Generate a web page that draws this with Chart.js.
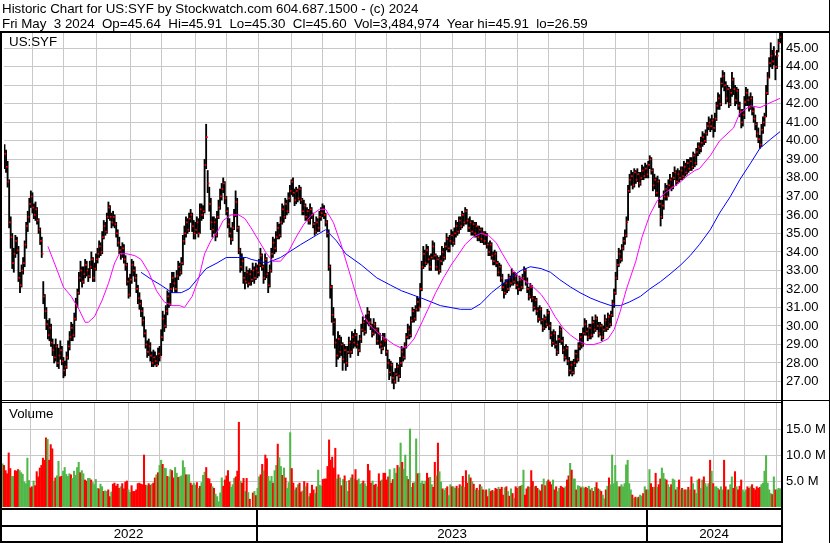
<!DOCTYPE html>
<html>
<head>
<meta charset="utf-8">
<script src="https://cdn.jsdelivr.net/npm/chart.js@4.4.1/dist/chart.umd.min.js"></script>
<style>
  html, body { margin: 0; padding: 0; background: #fff; }
  #wrap { position: relative; width: 830px; height: 543px; overflow: hidden; font-family: "Liberation Sans", Arial, sans-serif; color: #000; }
  canvas { position: absolute; left: 0; top: 0; }
  .t { position: absolute; white-space: pre; font-size: 13.33px; line-height: 15px; }
  .ln { position: absolute; background: #000; }
</style>
</head>
<body>
<div id="wrap">
  <canvas id="price" width="830" height="543"></canvas>
  <canvas id="vol" width="830" height="543"></canvas>
  <div class="t" style="left:2px;top:1px">Historic Chart for US:SYF by Stockwatch.com 604.687.1500 - (c) 2024</div>
  <div class="t" style="left:2px;top:16px">Fri May  3 2024  Op=45.64  Hi=45.91  Lo=45.30  Cl=45.60  Vol=3,484,974  Year hi=45.91  lo=26.59</div>
  <div class="t" style="left:9px;top:34px">US:SYF</div>
  <div class="t" style="left:9px;top:406px">Volume</div>
  <div class="ln" style="left:0;top:31px;width:830px;height:2px"></div>
  <div class="ln" style="left:0;top:31px;width:2px;height:512px"></div>
  <div class="ln" style="left:781px;top:31px;width:2px;height:512px"></div>
  <div class="ln" style="left:829px;top:0;width:1px;height:543px"></div>
  <div class="ln" style="left:0;top:400px;width:830px;height:1px"></div>
  <div class="ln" style="left:0;top:402px;width:783px;height:1px"></div>
  <div class="ln" style="left:0;top:508px;width:783px;height:2px"></div>
  <div class="ln" style="left:0;top:525px;width:783px;height:2px"></div>
  <div class="ln" style="left:0;top:541px;width:783px;height:2px"></div>
</div>
<script>
// daily bars, May 3 2022 .. May 3 2024 (one line per month)
const close = [
  39.3,38.6,37.8,35.6,34.8,33.4,33.9,34.6,34.1,32.6,32.2,33.0,33.4,34.4,35.4,35.9,36.6,37.0,
  36.4,36.0,36.3,35.7,35.2,34.6,33.9,31.6,30.8,30.1,29.5,29.9,29.1,28.7,28.3,28.9,28.0,28.4,28.7,28.1,
  27.6,27.8,28.3,28.9,29.4,29.9,29.5,30.4,31.1,31.8,32.6,33.0,32.4,32.8,33.3,33.0,32.7,33.2,33.6,32.6,33.1,
  33.6,33.9,34.3,34.0,34.8,35.4,35.1,35.9,36.4,35.9,35.6,35.9,35.5,35.0,34.5,34.1,33.9,34.2,33.6,33.3,32.4,31.7,
  32.5,33.3,33.0,32.6,32.0,31.5,31.2,30.8,30.3,29.6,29.0,28.6,28.9,28.4,28.0,28.3,28.1,27.9,28.5,28.3,
  29.4,30.4,30.0,30.8,31.6,31.2,32.0,32.6,32.3,32.0,32.7,33.2,32.9,33.4,34.6,35.0,35.6,35.2,35.8,36.0,35.4,35.0,
  35.2,35.6,35.0,36.3,36.0,36.2,38.7,40.2,37.7,36.6,35.6,35.2,35.6,34.9,35.9,36.4,37.0,37.4,37.7,36.9,
  36.2,35.5,35.0,34.7,35.3,36.0,36.7,35.3,34.1,33.2,33.5,32.6,32.4,32.9,32.3,32.8,32.5,33.0,32.6,33.1,32.9,
  33.3,33.8,33.2,32.6,33.6,32.8,32.2,33.0,33.9,34.5,34.2,34.8,35.3,34.9,35.6,36.3,35.9,36.6,36.2,36.9,37.3,
  37.8,37.2,36.8,37.3,36.9,37.4,36.8,36.2,36.5,35.9,36.2,35.7,36.3,36.0,35.5,35.1,35.6,35.3,35.9,36.1,
  36.3,36.0,35.6,35.0,33.2,32.1,30.6,30.2,29.1,28.4,29.3,28.6,29.0,28.2,28.7,28.0,28.6,29.1,28.6,29.4,29.1,
  29.5,29.0,28.7,29.3,29.8,30.2,29.7,30.3,30.7,30.2,30.0,29.6,30.1,29.8,29.2,29.6,29.0,28.8,29.3,29.2,
  28.6,28.0,27.5,27.9,27.2,27.0,27.4,27.8,27.3,28.0,28.6,28.3,28.9,29.4,29.8,29.5,30.3,30.8,30.4,30.9,31.3,31.0,
  32.0,33.2,33.9,33.4,34.1,33.6,33.2,33.7,34.3,33.8,33.2,33.6,33.0,33.5,34.0,33.7,34.3,34.7,34.2,34.6,34.9,
  34.5,35.0,35.4,35.1,35.7,35.4,36.0,35.6,36.2,35.7,35.3,35.6,35.1,35.5,35.0,35.4,34.8,35.2,34.7,35.0,34.6,
  34.9,34.4,34.0,34.4,33.8,33.5,33.9,33.4,32.9,33.2,32.6,32.1,31.8,32.3,32.0,32.6,32.3,32.9,32.4,32.7,32.2,
  32.0,32.5,32.1,32.6,33.0,32.4,32.0,31.6,32.1,31.5,31.0,31.4,30.8,30.4,30.9,30.3,29.9,30.4,30.1,30.7,
  30.0,29.5,29.1,29.6,29.0,28.6,29.3,29.8,29.2,28.7,28.3,28.8,28.1,27.6,27.9,27.5,28.0,28.5,28.2,28.9,29.4,29.0,
  29.6,30.1,29.7,29.4,29.9,29.5,30.2,29.8,30.4,30.0,29.6,30.0,29.4,29.8,30.3,29.9,30.5,30.1,30.6,31.2,31.8,
  32.6,33.3,33.9,33.6,34.2,34.6,34.9,35.6,37.3,37.9,38.1,37.6,38.3,37.9,38.2,37.7,38.0,38.4,38.1,38.5,38.2,
  38.7,39.0,38.4,37.6,37.9,37.2,37.8,36.6,35.9,36.5,37.0,37.4,37.0,37.6,37.9,37.5,38.0,38.3,37.8,38.2,38.0,
  38.4,38.1,38.6,38.3,38.8,38.5,38.9,38.6,39.2,38.8,39.4,39.7,39.6,39.9,40.2,40.0,40.4,40.8,41.0,40.8,41.1,
  40.7,41.2,41.9,42.3,42.0,43.1,43.5,43.0,42.3,42.8,42.0,42.6,43.3,42.8,42.2,42.7,41.9,41.6,41.0,41.4,
  42.1,42.6,42.2,41.8,42.3,41.6,41.2,40.9,40.4,40.1,39.8,40.6,41.0,41.3,42.6,43.4,44.2,44.6,44.3,44.8,44.0,
  44.6,45.3,45.6
];
const high = [
  39.8,39.5,38.9,37.9,35.9,35.0,34.2,34.9,34.8,34.3,32.9,33.3,33.7,34.6,35.6,36.2,36.9,37.3,
  37.2,36.6,36.7,36.4,35.8,35.3,34.8,32.4,31.7,31.0,30.3,30.4,30.1,29.3,29.0,29.3,29.0,28.8,29.2,28.9,
  28.3,28.1,28.6,29.2,29.7,30.2,30.1,30.7,31.5,32.0,32.9,33.5,33.2,33.2,33.6,33.5,33.1,33.5,34.0,33.7,33.4,
  33.9,34.2,34.6,34.5,35.1,35.7,35.6,36.1,36.7,36.5,36.1,36.2,36.0,35.6,35.2,34.8,34.3,34.5,34.4,33.8,33.4,32.6,
  32.8,33.6,33.5,33.2,32.8,32.2,31.8,31.4,31.0,30.5,29.8,29.2,29.3,29.1,28.6,28.7,28.6,28.4,28.8,28.9,
  29.8,30.8,30.6,31.1,31.9,31.8,32.3,32.9,32.9,32.6,33.0,33.5,33.4,33.7,34.9,35.4,35.9,35.8,36.1,36.3,36.1,35.7,
  35.6,35.9,35.8,36.6,36.6,36.5,39.0,40.9,38.4,37.5,36.9,35.9,35.9,35.8,36.2,36.8,37.4,37.7,38.0,37.8,
  37.0,36.4,35.8,35.3,35.6,36.3,37.3,36.9,35.4,34.2,33.9,33.7,32.9,33.2,33.0,33.1,33.0,33.4,33.2,33.4,33.3,
  33.6,34.2,33.9,33.3,33.9,33.7,32.9,33.3,34.2,34.8,34.7,35.1,35.6,35.5,35.9,36.6,36.5,36.9,36.8,37.2,37.6,
  37.9,38.0,37.4,37.5,37.4,37.6,37.5,36.9,36.8,36.6,36.4,36.3,36.6,36.4,36.1,35.6,35.9,35.8,36.2,36.4,
  36.6,36.5,36.1,35.7,35.2,33.3,32.2,31.0,30.4,29.3,29.7,29.5,29.4,29.1,29.0,28.9,28.9,29.4,29.2,29.7,29.6,
  29.8,29.6,29.2,29.5,30.1,30.5,30.3,30.6,31.0,30.8,30.4,30.1,30.4,30.2,29.9,29.9,29.6,29.2,29.6,29.6,
  29.3,28.7,28.2,28.1,28.0,27.5,27.7,28.0,27.9,28.3,28.9,28.8,29.1,29.6,30.1,30.0,30.5,31.0,30.9,31.1,31.6,31.5,
  32.3,33.5,34.3,34.1,34.4,34.3,33.8,33.9,34.6,34.5,33.9,33.8,33.7,33.8,34.3,34.2,34.5,35.0,34.8,34.9,35.2,
  35.1,35.3,35.7,35.6,35.9,35.9,36.2,36.1,36.4,36.3,35.8,35.9,35.7,35.7,35.6,35.6,35.4,35.4,35.3,35.3,35.1,
  35.1,35.0,34.5,34.6,34.5,34.0,34.1,34.0,33.5,33.4,33.3,32.8,32.3,32.5,32.5,32.8,32.7,33.1,32.9,32.9,32.8,
  32.4,32.7,32.6,32.8,33.2,33.1,32.6,32.1,32.3,32.2,31.6,31.6,31.5,31.0,31.1,31.0,30.4,30.6,30.5,30.9,
  30.8,30.2,29.7,29.8,29.7,29.2,29.5,30.0,29.9,29.4,28.9,29.0,28.9,28.3,28.1,28.1,28.2,28.7,28.7,29.1,29.6,29.6,
  29.9,30.4,30.3,29.9,30.1,30.1,30.5,30.3,30.6,30.5,30.2,30.2,30.1,30.0,30.6,30.4,30.7,30.6,30.8,31.4,32.0,
  32.9,33.6,34.2,34.1,34.4,34.8,35.2,35.9,37.6,38.2,38.4,38.3,38.5,38.4,38.5,38.3,38.3,38.7,38.6,38.8,38.7,
  38.9,39.2,39.1,38.5,38.2,38.0,38.1,37.9,36.8,36.8,37.3,37.7,37.6,37.9,38.2,38.0,38.3,38.6,38.4,38.5,38.4,
  38.6,38.6,38.9,38.8,39.0,39.0,39.1,39.1,39.4,39.3,39.6,39.9,39.9,40.2,40.5,40.4,40.6,41.0,41.3,41.2,41.4,
  41.2,41.5,42.1,42.6,42.5,43.4,43.8,43.7,43.2,43.0,42.9,42.8,43.7,43.4,43.0,42.9,42.8,42.1,41.7,41.7,
  42.4,42.9,42.8,42.4,42.6,42.4,41.8,41.4,41.0,40.7,40.3,40.9,41.3,41.5,43.0,43.7,44.5,45.3,44.9,45.1,44.6,
  44.9,45.5,45.91
];
const low = [
  38.5,38.3,37.5,35.3,34.2,33.1,32.9,33.7,33.9,32.4,31.8,32.1,32.8,33.2,34.2,35.1,35.6,36.4,
  36.1,35.8,35.7,35.5,35.0,34.4,33.7,31.2,30.4,29.8,29.3,29.2,28.9,28.4,28.0,28.1,27.8,27.7,28.2,27.9,
  27.2,27.3,27.7,28.2,28.7,29.2,29.2,29.4,30.3,31.0,31.7,32.4,32.1,32.3,32.6,32.7,32.4,32.6,33.1,32.4,32.4,
  33.0,33.4,33.7,33.8,33.9,34.7,34.9,35.0,35.8,35.7,35.3,35.4,35.3,34.8,34.3,33.9,33.6,33.7,33.4,33.0,32.2,31.5,
  31.6,32.3,32.7,32.4,31.8,31.2,30.9,30.5,30.0,29.4,28.8,28.3,28.4,28.1,27.8,27.8,27.9,27.8,27.9,28.1,
  28.4,29.2,29.7,29.9,30.6,31.0,31.1,31.8,32.1,31.8,31.8,32.5,32.7,32.8,33.3,34.4,34.8,35.0,35.1,35.6,35.1,34.7,
  34.7,35.0,34.8,35.0,35.7,35.8,36.1,38.5,37.2,36.2,35.2,34.8,35.0,34.6,34.8,35.8,36.3,36.8,37.2,36.6,
  36.0,35.3,34.8,34.4,34.6,35.2,35.9,35.1,33.9,32.9,33.0,32.3,32.0,32.3,32.1,32.2,32.2,32.4,32.3,32.5,32.6,
  32.7,33.2,33.0,32.3,32.5,32.6,31.8,32.1,32.9,33.7,33.9,34.0,34.7,34.7,34.8,35.5,35.6,35.8,36.0,36.1,36.7,
  37.1,37.0,36.5,36.6,36.7,36.8,36.6,36.0,36.0,35.7,35.7,35.5,35.5,35.8,35.3,34.9,35.0,35.1,35.1,35.7,
  35.9,35.8,35.4,34.8,33.0,31.5,30.2,29.5,28.8,27.8,28.2,28.3,28.4,27.6,28.0,27.6,27.8,28.5,28.3,28.5,28.8,
  28.9,28.8,28.4,28.6,29.1,29.7,29.5,29.6,30.1,30.0,29.8,29.4,29.5,29.6,29.0,29.0,28.8,28.5,28.7,28.9,
  28.4,27.7,27.1,27.3,26.9,26.6,26.9,27.3,27.0,27.2,27.8,28.1,28.2,28.8,29.3,29.3,29.4,30.2,30.2,30.3,30.8,30.8,
  31.0,31.9,33.1,33.2,33.3,33.4,33.0,33.0,33.6,33.6,33.0,33.0,32.8,32.9,33.3,33.5,33.6,34.1,34.0,34.0,34.4,
  34.3,34.4,34.8,34.9,35.0,35.2,35.3,35.4,35.5,35.5,35.1,35.1,34.9,34.9,34.8,34.8,34.6,34.6,34.5,34.5,34.4,
  34.4,34.2,33.8,33.8,33.6,33.3,33.3,33.2,32.7,32.7,32.4,31.9,31.5,31.7,31.8,31.9,32.1,32.2,32.2,32.3,32.0,
  31.7,31.9,31.9,32.0,32.5,32.2,31.8,31.4,31.5,31.3,30.8,30.9,30.6,30.2,30.3,30.1,29.7,29.8,29.9,30.0,
  29.8,29.3,28.9,29.0,28.8,28.4,28.5,29.1,29.0,28.5,28.1,28.2,27.9,27.3,27.4,27.3,27.4,27.8,28.0,28.1,28.7,28.8,
  28.9,29.5,29.5,29.2,29.3,29.3,29.4,29.6,29.7,29.8,29.4,29.5,29.2,29.3,29.7,29.7,29.8,29.9,30.0,30.5,31.0,
  31.7,32.5,33.2,33.4,33.5,34.1,34.4,34.8,35.7,37.2,37.6,37.4,37.5,37.7,37.8,37.5,37.6,37.9,37.9,38.0,38.0,
  38.0,38.5,38.2,37.3,37.4,37.0,37.0,36.4,35.4,35.8,36.3,36.8,36.8,37.0,37.4,37.3,37.4,37.9,37.6,37.7,37.8,
  37.9,37.9,38.0,38.1,38.2,38.3,38.4,38.4,38.5,38.6,38.7,39.2,39.3,39.4,39.7,39.8,39.9,40.3,40.6,40.5,40.6,
  40.2,40.5,41.1,41.7,41.7,41.9,42.9,42.7,42.0,42.1,41.8,41.9,42.4,42.5,41.9,42.0,41.7,41.3,40.7,40.8,
  41.2,41.9,41.9,41.6,41.7,41.4,41.0,40.6,40.2,39.9,39.6,39.7,40.4,40.8,41.3,42.5,43.4,44.0,43.9,44.1,43.3,
  43.9,44.8,45.3
];
// volume in millions of shares
const volume = [
  8.3,8.0,7.0,6.4,10.4,7.4,5.9,5.9,7.0,6.9,7.2,7.0,6.6,6.3,4.8,4.5,9.4,5.1,
  3.7,3.9,5.0,4.1,6.8,5.8,7.5,8.0,9.4,9.0,13.3,13.0,9.0,12.0,11.2,5.0,5.6,6.0,8.8,5.8,
  5.9,6.9,7.6,6.3,5.9,6.4,6.2,5.5,6.9,6.1,7.6,8.6,6.6,7.0,6.4,5.2,5.0,5.5,5.5,5.2,4.7,
  4.3,5.3,3.6,3.5,4.4,3.9,3.0,3.1,3.0,3.3,2.0,2.9,4.4,4.6,4.0,4.4,3.6,3.9,4.5,3.5,4.8,5.0,
  3.3,2.8,4.1,3.0,3.0,3.3,4.5,4.6,4.4,4.3,10.0,4.2,4.1,4.5,4.2,4.4,4.6,5.6,6.2,6.6,
  8.0,9.0,8.2,7.5,7.4,5.9,5.8,7.2,7.0,5.6,7.6,6.5,5.7,5.8,6.0,8.9,7.6,6.2,6.2,6.2,4.6,4.2,
  4.6,4.2,4.7,3.6,4.0,4.7,6.1,6.7,7.6,5.5,5.4,4.5,3.9,3.6,2.5,2.0,1.0,2.7,5.6,4.0,
  5.2,6.0,7.0,4.8,3.8,4.3,5.5,5.8,6.9,16.3,5.0,4.6,5.5,3.0,5.5,2.8,1.5,0.0,2.7,3.0,2.2,
  3.6,5.8,6.2,8.2,7.0,10.0,9.3,5.9,5.0,5.9,4.6,7.0,8.0,12.1,9.5,7.8,6.1,7.5,5.6,3.6,4.7,
  14.3,7.4,4.6,3.3,3.7,4.3,4.6,2.9,3.1,4.9,3.9,4.6,2.0,2.6,4.2,3.3,2.6,3.9,7.1,4.2,
  4.0,5.3,5.4,5.4,7.8,12.9,9.0,9.6,7.5,11.3,5.4,6.2,5.6,4.1,5.3,6.0,4.9,3.0,5.1,5.6,6.2,
  5.4,7.2,5.1,5.4,4.4,4.6,5.0,4.5,4.0,8.2,7.0,4.6,5.0,4.2,4.4,3.9,6.4,5.0,5.2,6.5,
  6.5,5.2,5.8,7.2,4.6,5.3,7.4,6.5,8.0,7.6,12.3,8.6,7.3,10.0,5.9,5.3,15.0,3.8,4.6,4.7,13.1,6.4,
  6.5,4.6,5.0,4.4,5.0,6.5,5.6,5.7,4.3,3.8,8.6,6.0,12.3,6.8,4.8,3.5,3.2,3.6,3.9,2.2,4.3,
  3.9,3.9,3.6,4.0,3.6,4.3,4.0,5.9,3.8,7.0,4.6,6.2,5.6,4.9,4.4,3.3,3.6,3.2,4.3,3.9,3.3,
  3.1,3.3,2.0,3.5,3.0,3.2,3.0,3.6,3.4,3.8,3.4,3.8,2.3,3.7,3.9,3.0,2.1,3.5,2.6,1.7,3.9,
  3.6,3.9,4.0,4.2,7.1,2.3,3.5,3.9,3.8,7.0,4.9,3.9,4.0,3.6,3.3,3.1,4.3,5.4,4.1,4.9,
  5.2,4.8,4.3,5.2,3.3,3.9,3.0,3.6,4.0,3.8,3.6,3.9,5.2,6.0,8.4,7.1,5.4,5.4,3.3,4.1,4.0,3.7,
  3.9,3.6,3.8,3.6,4.0,3.3,3.6,3.0,3.8,4.7,3.5,3.3,3.0,2.3,1.6,3.3,4.0,5.6,4.3,10.0,4.5,
  8.0,4.9,3.9,3.9,4.3,3.9,4.5,8.1,9.0,4.5,3.3,2.3,1.7,1.9,1.7,1.9,2.3,2.1,2.6,3.9,3.3,
  3.3,7.2,4.5,3.8,3.8,6.5,3.8,4.3,5.4,7.5,6.5,5.4,5.2,4.3,3.8,4.3,5.4,5.2,3.3,3.8,5.2,
  3.3,3.6,3.3,3.3,3.3,3.8,3.3,5.8,4.5,3.3,2.6,5.2,5.4,3.6,5.2,5.8,4.5,3.9,4.5,9.0,6.9,
  4.5,3.9,3.9,3.6,3.3,3.9,3.3,9.0,3.9,3.3,3.3,4.3,5.8,3.6,6.8,3.9,3.3,4.0,5.2,3.3,
  2.9,3.3,3.9,3.6,3.9,4.3,3.6,3.3,3.9,3.6,3.8,4.3,4.6,6.9,9.9,4.6,3.3,2.6,2.4,5.8,3.3,
  3.3,3.6,3.5
];
// moving averages: [bar index, price]
const maMagenta = [[28,34.3],[34,33.0],[38,32.1],[43,31.6],[48,30.9],[52,30.2],[54,30.2],[58,30.5],[63,31.4],[67,32.3],[71,33.4],[74,33.9],[79,33.9],[84,33.8],[88,33.6],[93,32.9],[98,31.9],[103,31.3],[108,31.1],[113,31.1],[116,31.0],[121,31.6],[125,32.5],[129,33.9],[133,34.6],[138,35.2],[141,35.7],[146,36.0],[151,36.0],[155,35.8],[159,35.3],[164,34.6],[169,33.9],[173,33.5],[178,33.5],[183,34.0],[188,34.8],[193,35.5],[198,36.0],[203,36.3],[207,36.3],[212,35.6],[217,34.4],[222,33.0],[227,31.6],[231,30.6],[236,30.0],[241,29.6],[246,29.3],[251,29.0],[256,28.8],[260,28.9],[264,29.3],[268,30.0],[273,30.9],[278,31.8],[283,32.6],[288,33.3],[293,33.9],[297,34.4],[302,34.8],[307,35.0],[312,34.9],[317,34.5],[321,33.9],[326,33.2],[331,32.7],[336,32.4],[341,32.1],[346,31.7],[351,31.1],[355,30.5],[360,29.9],[365,29.5],[370,29.2],[375,29.0],[380,29.0],[384,29.1],[389,29.3],[393,29.8],[397,30.8],[401,32.0],[407,33.5],[411,34.8],[416,36.0],[421,36.8],[426,37.2],[431,37.5],[436,37.8],[440,38.1],[445,38.4],[448,38.5],[455,39.2],[461,40.0],[470,40.7],[474,41.5],[481,41.9],[487,41.8],[492,42.0],[500,42.3]];
const maBlue = [[88,32.9],[95,32.5],[101,32.2],[108,31.8],[114,31.8],[119,32.0],[124,32.5],[130,33.1],[137,33.4],[143,33.7],[150,33.7],[156,33.7],[159,33.6],[169,33.4],[178,33.7],[191,34.4],[201,34.9],[207,35.2],[214,34.6],[220,33.9],[230,33.3],[240,32.6],[249,32.2],[256,31.9],[269,31.5],[281,31.1],[294,30.9],[301,30.9],[307,31.2],[314,31.8],[320,32.2],[326,32.6],[333,33.0],[339,33.2],[346,33.1],[352,32.9],[358,32.5],[365,32.1],[371,31.8],[378,31.5],[384,31.3],[391,31.1],[397,31.1],[403,31.3],[410,31.6],[416,32.0],[423,32.4],[429,32.8],[436,33.3],[442,33.8],[448,34.4],[455,35.2],[461,36.1],[468,37.0],[474,37.9],[481,38.8],[487,39.6],[494,40.1],[500,40.5]];

// axis ticks
const monthStart = [18,38,59,81,101,123,143,164,185,205,226,246,268,289,310,331,351,373,394,415,436,457,477,498];
const years = ['2022', '2023', '2024'];
const yearStart = [0, 164, 415];
const priceTicks = [27,28,29,30,31,32,33,34,35,36,37,38,39,40,41,42,43,44,45];
const volTicks = [5, 10, 15];

Chart.defaults.font.family = '"Liberation Sans", Arial, sans-serif';
Chart.defaults.color = '#000';

const gridColor = '#c8c8c8';
const xAxis = {
  type: 'linear', min: -0.32, max: 500.6, offset: false,
  ticks: { display: false },
  grid: { color: gridColor, drawTicks: false, offset: false },
  border: { display: false },
  afterBuildTicks: s => { s.ticks = monthStart.map(v => ({ value: v })); },
  afterFit: s => { s.height = 0; }
};

new Chart(document.getElementById('price'), {
  type: 'line',
  data: {
    datasets: [
      { type: 'line', data: maMagenta.map(p => ({ x: p[0], y: p[1] })), borderColor: '#ff00ff', borderWidth: 1, pointRadius: 0, order: 0 },
      { type: 'line', data: maBlue.map(p => ({ x: p[0], y: p[1] })), borderColor: '#0000ff', borderWidth: 1, pointRadius: 0, order: 0 },
      { type: 'line', data: close.map((c, i) => ({ x: i + 0.5, y: c })), showLine: false, pointStyle: 'rect', pointRadius: 1.2, pointBackgroundColor: '#ff0000', pointBorderWidth: 0, order: 1 },
      { type: 'bar', data: high.map((h, i) => ({ x: i, y: [low[i], h] })), backgroundColor: '#000', barThickness: 1.2, order: 2 }
    ]
  },
  options: {
    responsive: false, animation: false, devicePixelRatio: 1,
    layout: { padding: { top: 33, bottom: 143, left: 2, right: 0 } },
    plugins: { legend: { display: false }, tooltip: { enabled: false } },
    scales: {
      x: xAxis,
      y: {
        position: 'right', min: 26, max: 45.83,
        ticks: { padding: 5, font: { size: 13 }, callback: v => v.toFixed(2) },
        grid: { color: gridColor, drawTicks: false },
        border: { display: false },
        afterBuildTicks: s => { s.ticks = priceTicks.map(v => ({ value: v })); },
        afterFit: s => { s.width = 49; }
      }
    }
  }
});

const volColors = close.map((c, i) => i === 0 || c > close[i - 1] ? '#50b848' : (c < close[i - 1] ? '#ff0000' : '#a0a0a0'));

const yearBand = {
  id: 'yearBand',
  afterDraw(chart) {
    const ctx = chart.ctx, xs = chart.scales.x, area = chart.chartArea;
    ctx.save();
    ctx.fillStyle = '#000';
    ctx.font = '13.33px "Liberation Sans", Arial, sans-serif';
    ctx.textAlign = 'center';
    ctx.textBaseline = 'middle';
    yearStart.forEach((s, k) => {
      const x0 = k === 0 ? 0 : Math.round(xs.getPixelForValue(s)) - 1;
      const x1 = k + 1 < yearStart.length ? Math.round(xs.getPixelForValue(yearStart[k + 1])) - 1 : area.right;
      if (k > 0) ctx.fillRect(x0 - 1, 510, 2, 31);
      ctx.fillText(years[k], (x0 + x1) / 2, 534);
    });
    ctx.restore();
  }
};

new Chart(document.getElementById('vol'), {
  type: 'bar',
  data: {
    datasets: [
      { data: volume.map((v, i) => ({ x: i, y: v })), backgroundColor: volColors, barThickness: 1.4 }
    ]
  },
  options: {
    responsive: false, animation: false, devicePixelRatio: 1,
    layout: { padding: { top: 403, bottom: 36, left: 2, right: 0 } },
    plugins: { legend: { display: false }, tooltip: { enabled: false } },
    scales: {
      x: xAxis,
      y: {
        position: 'right', min: 0, max: 20,
        ticks: { padding: 5, font: { size: 13 }, callback: v => v.toFixed(1) + ' M' },
        grid: { color: gridColor, drawTicks: false },
        border: { display: false },
        afterBuildTicks: s => { s.ticks = volTicks.map(v => ({ value: v })); },
        afterFit: s => { s.width = 49; }
      }
    }
  },
  plugins: [yearBand]
});
</script>
</body>
</html>
